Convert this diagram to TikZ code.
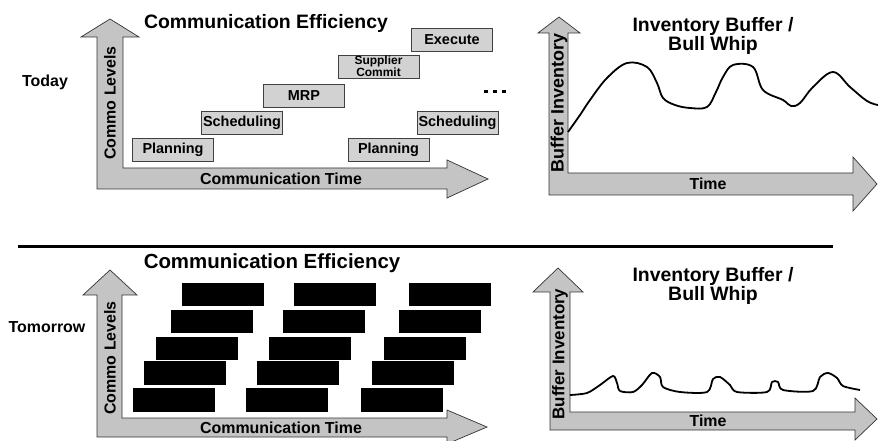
\documentclass[tikz,border=0pt]{standalone}
\usepackage{fontspec}
\setmainfont{Liberation Sans}
\definecolor{axisgray}{HTML}{C4C4C4}
\definecolor{boxgray}{HTML}{D2D2D2}
\begin{document}
\begin{tikzpicture}[x=1bp,y=-1bp,
  axis/.style={fill=axisgray, draw=black!80, line width=0.7bp, line join=miter},
  stepbox/.style={draw=black!75, fill=boxgray, line width=0.8bp, minimum width=81bp, minimum height=23bp, inner sep=0pt, font=\fontsize{14.5}{14}\selectfont\bfseries},
  blk/.style={fill=black, minimum width=82bp, minimum height=23bp, inner sep=0pt},
  curve/.style={line width=1.8bp, black, line join=round},
  axlabel/.style={font=\fontsize{16}{16}\selectfont\bfseries, inner sep=0pt},
  title/.style={font=\fontsize{19.5}{17}\selectfont\bfseries, align=center, inner sep=0pt},
  rowlabel/.style={font=\fontsize{16}{16}\selectfont\bfseries, inner sep=0pt}]
\useasboundingbox (0,0) rectangle (878,441);

% ---------------- TODAY ----------------
\node[rowlabel] (today) at (45,82) {Today};
\draw[axis] (110,19) -- (139,37) -- (123,37) -- (123,168) -- (447,168) -- (447,160)
  -- (488,179) -- (447,198) -- (447,189) -- (97,189) -- (97,37) -- (81,37) -- cycle;
\node[axlabel, rotate=90] (clv1) at (110,103) {Commo Levels};
\node[axlabel] (ct1) at (281,179) {Communication Time};
\node[title] (ce1) at (266,23) {Communication Efficiency};

\node[stepbox] (plan1) at (173,150) {Planning};
\node[stepbox] (sched1) at (242,123) {Scheduling};
\node[stepbox] (mrp) at (304,95.5) {MRP};
\node[stepbox, align=center, font=\fontsize{12}{10.5}\selectfont\bfseries] (supp) at (378.5,66.5) {Supplier\\Commit};
\node[stepbox] (exec) at (452,39.5) {Execute};
\node[stepbox] (plan2) at (388.5,150) {Planning};
\node[stepbox] (sched2) at (457.5,123) {Scheduling};
\foreach \xx in {486,495,504} \fill (\xx-1.7,89.8) rectangle +(3.4,3.4);

\draw[axis] (559,17) -- (580,33) -- (568,33) -- (568,173) -- (853,173) -- (853,157)
  -- (877,184) -- (853,211) -- (853,195) -- (549,195) -- (549,33) -- (538,33) -- cycle;
\node[axlabel, rotate=90, font=\fontsize{18}{18}\selectfont\bfseries] (bi1) at (559,103) {Buffer Inventory};
\node[axlabel] (time1) at (708,184) {Time};
\node[title] (ib1) at (713,36) {Inventory Buffer /\\Bull Whip};
\draw[curve] plot[smooth, tension=0.6] coordinates {(568,132) (580,115) (590,100) (607,78) (627,63) (647,67) (657,83) (663,98) (675,105) (690,108) (707,107) (716,92) (723,77) (733,65) (753,67) (763,90) (783,100) (791,106) (800,103) (813,87) (833,72) (850,87) (867,101) (878,105)};

% ---------------- separator ----------------
\draw[line width=3bp] (18,247) -- (833,247);

% ---------------- TOMORROW ----------------
\node[rowlabel] (tomorrow) at (47,327) {Tomorrow};
\draw[axis] (110,270) -- (137,295) -- (122,295) -- (122,418) -- (447,418) -- (447,410)
  -- (487,427) -- (447,444) -- (447,437) -- (97,437) -- (97,295) -- (83,295) -- cycle;
\node[axlabel, rotate=90] (clv2) at (110,358) {Commo Levels};
\node[axlabel] (ct2) at (281,428) {Communication Time};
\node[title, font=\fontsize{20.5}{17}\selectfont\bfseries] (ce2) at (272,263) {Communication Efficiency};

\node[blk] (b11) at (222.5,294.5) {};
\node[blk] (b12) at (334.5,294.5) {};
\node[blk] (b13) at (450,294.5) {};
\node[blk] (b21) at (211.5,321.5) {};
\node[blk] (b22) at (324,321.5) {};
\node[blk] (b23) at (439.5,321.5) {};
\node[blk] (b31) at (197,348.5) {};
\node[blk] (b32) at (309.5,348.5) {};
\node[blk] (b33) at (425,348.5) {};
\node[blk] (b41) at (185,373) {};
\node[blk] (b42) at (297.5,373) {};
\node[blk] (b43) at (413,373) {};
\node[blk] (b51) at (174,400) {};
\node[blk] (b52) at (287,400) {};
\node[blk] (b53) at (402,400) {};

\draw[axis] (558,268) -- (583,292) -- (570,292) -- (570,412) -- (855,412) -- (855,398)
  -- (877,419) -- (855,440) -- (855,430) -- (550,430) -- (550,292) -- (533,292) -- cycle;
\node[axlabel, rotate=90, font=\fontsize{17}{17}\selectfont\bfseries] (bi2) at (560,354) {Buffer Inventory};
\node[axlabel] (time2) at (708,421) {Time};
\node[title] (ib2) at (713,286) {Inventory Buffer /\\Bull Whip};
\draw[curve] plot[smooth, tension=0.5] coordinates {(570,395) (587,393) (600,385) (613,376) (617,383) (620,391) (633,392) (642,385) (652,373) (660,377) (663,387) (680,392) (707,392) (713,379) (720,377) (730,385) (737,392) (767,392) (772,382) (778,382) (783,390) (813,391) (820,377) (828,373) (837,378) (843,386) (860,390)};
\end{tikzpicture}
\end{document}
